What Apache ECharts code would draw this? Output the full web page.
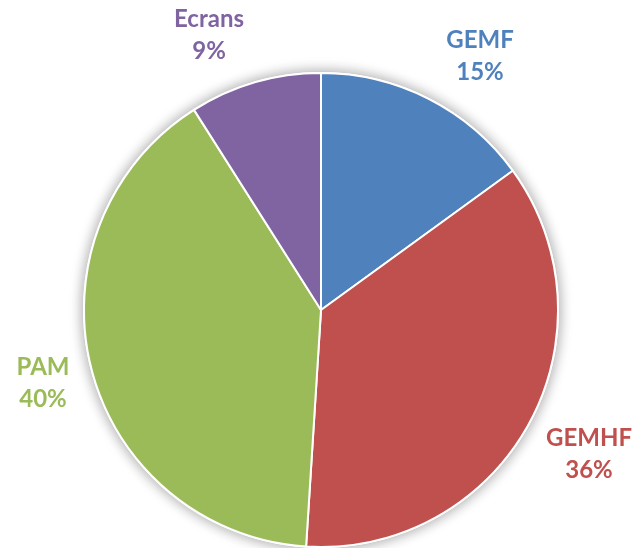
<!DOCTYPE html>
<html>
<head>
<meta charset="utf-8">
<style>
  html, body { margin: 0; padding: 0; background: #ffffff; }
  #chart { width: 634px; height: 548px; }
</style>
<script src="https://cdn.jsdelivr.net/npm/echarts@6/dist/echarts.min.js"></script>
</head>
<body>
<div id="chart"></div>
<script>
// Share of each category (percent)
const categories = ['GEMF', 'GEMHF', 'PAM', 'Ecrans'];
const shares = [15, 36, 40, 9];
const colors = ['#4F81BD', '#C0504D', '#9BBB59', '#8064A2'];

// Label anchor points (centre of each two-line label block)
const labelSpots = {
  GEMF: [480, 56],
  GEMHF: [589, 454],
  PAM: [43, 383],
  Ecrans: [209, 35]
};

const chart = echarts.init(document.getElementById('chart'), null, { renderer: 'canvas' });

const center = [321, 310];
const radius = 237;

chart.setOption({
  animation: false,
  series: [
    {
      // soft drop shadow behind the pie
      type: 'pie',
      silent: true,
      center: center,
      radius: radius,
      z: 1,
      label: { show: false },
      labelLine: { show: false },
      itemStyle: {
        color: '#ffffff',
        borderColor: '#ffffff',
        borderWidth: 2,
        shadowBlur: 14,
        shadowColor: 'rgba(0,0,0,0.38)'
      },
      data: [{ value: 1, name: '' }]
    },
    {
      type: 'pie',
      center: center,
      radius: radius,
      startAngle: 90,
      clockwise: true,
      z: 2,
      itemStyle: {
        borderColor: '#ffffff',
        borderWidth: 2
      },
      label: {
        show: true,
        position: 'outside',
        alignTo: 'none',
        overflow: 'none',
        width: 200,
        formatter: p => p.name + '\n' + p.value + '%',
        fontFamily: 'Lato',
        fontWeight: 'bold',
        fontSize: 24,
        lineHeight: 32,
        align: 'center'
      },
      labelLine: { show: false },
      labelLayout: function (params) {
        const name = categories[params.dataIndex];
        const spot = labelSpots[name];
        return {
          x: spot[0],
          y: spot[1],
          align: 'center',
          verticalAlign: 'middle'
        };
      },
      data: categories.map((name, i) => ({
        name: name,
        value: shares[i],
        itemStyle: { color: colors[i] },
        label: { color: colors[i] }
      }))
    }
  ]
});
</script>
</body>
</html>
